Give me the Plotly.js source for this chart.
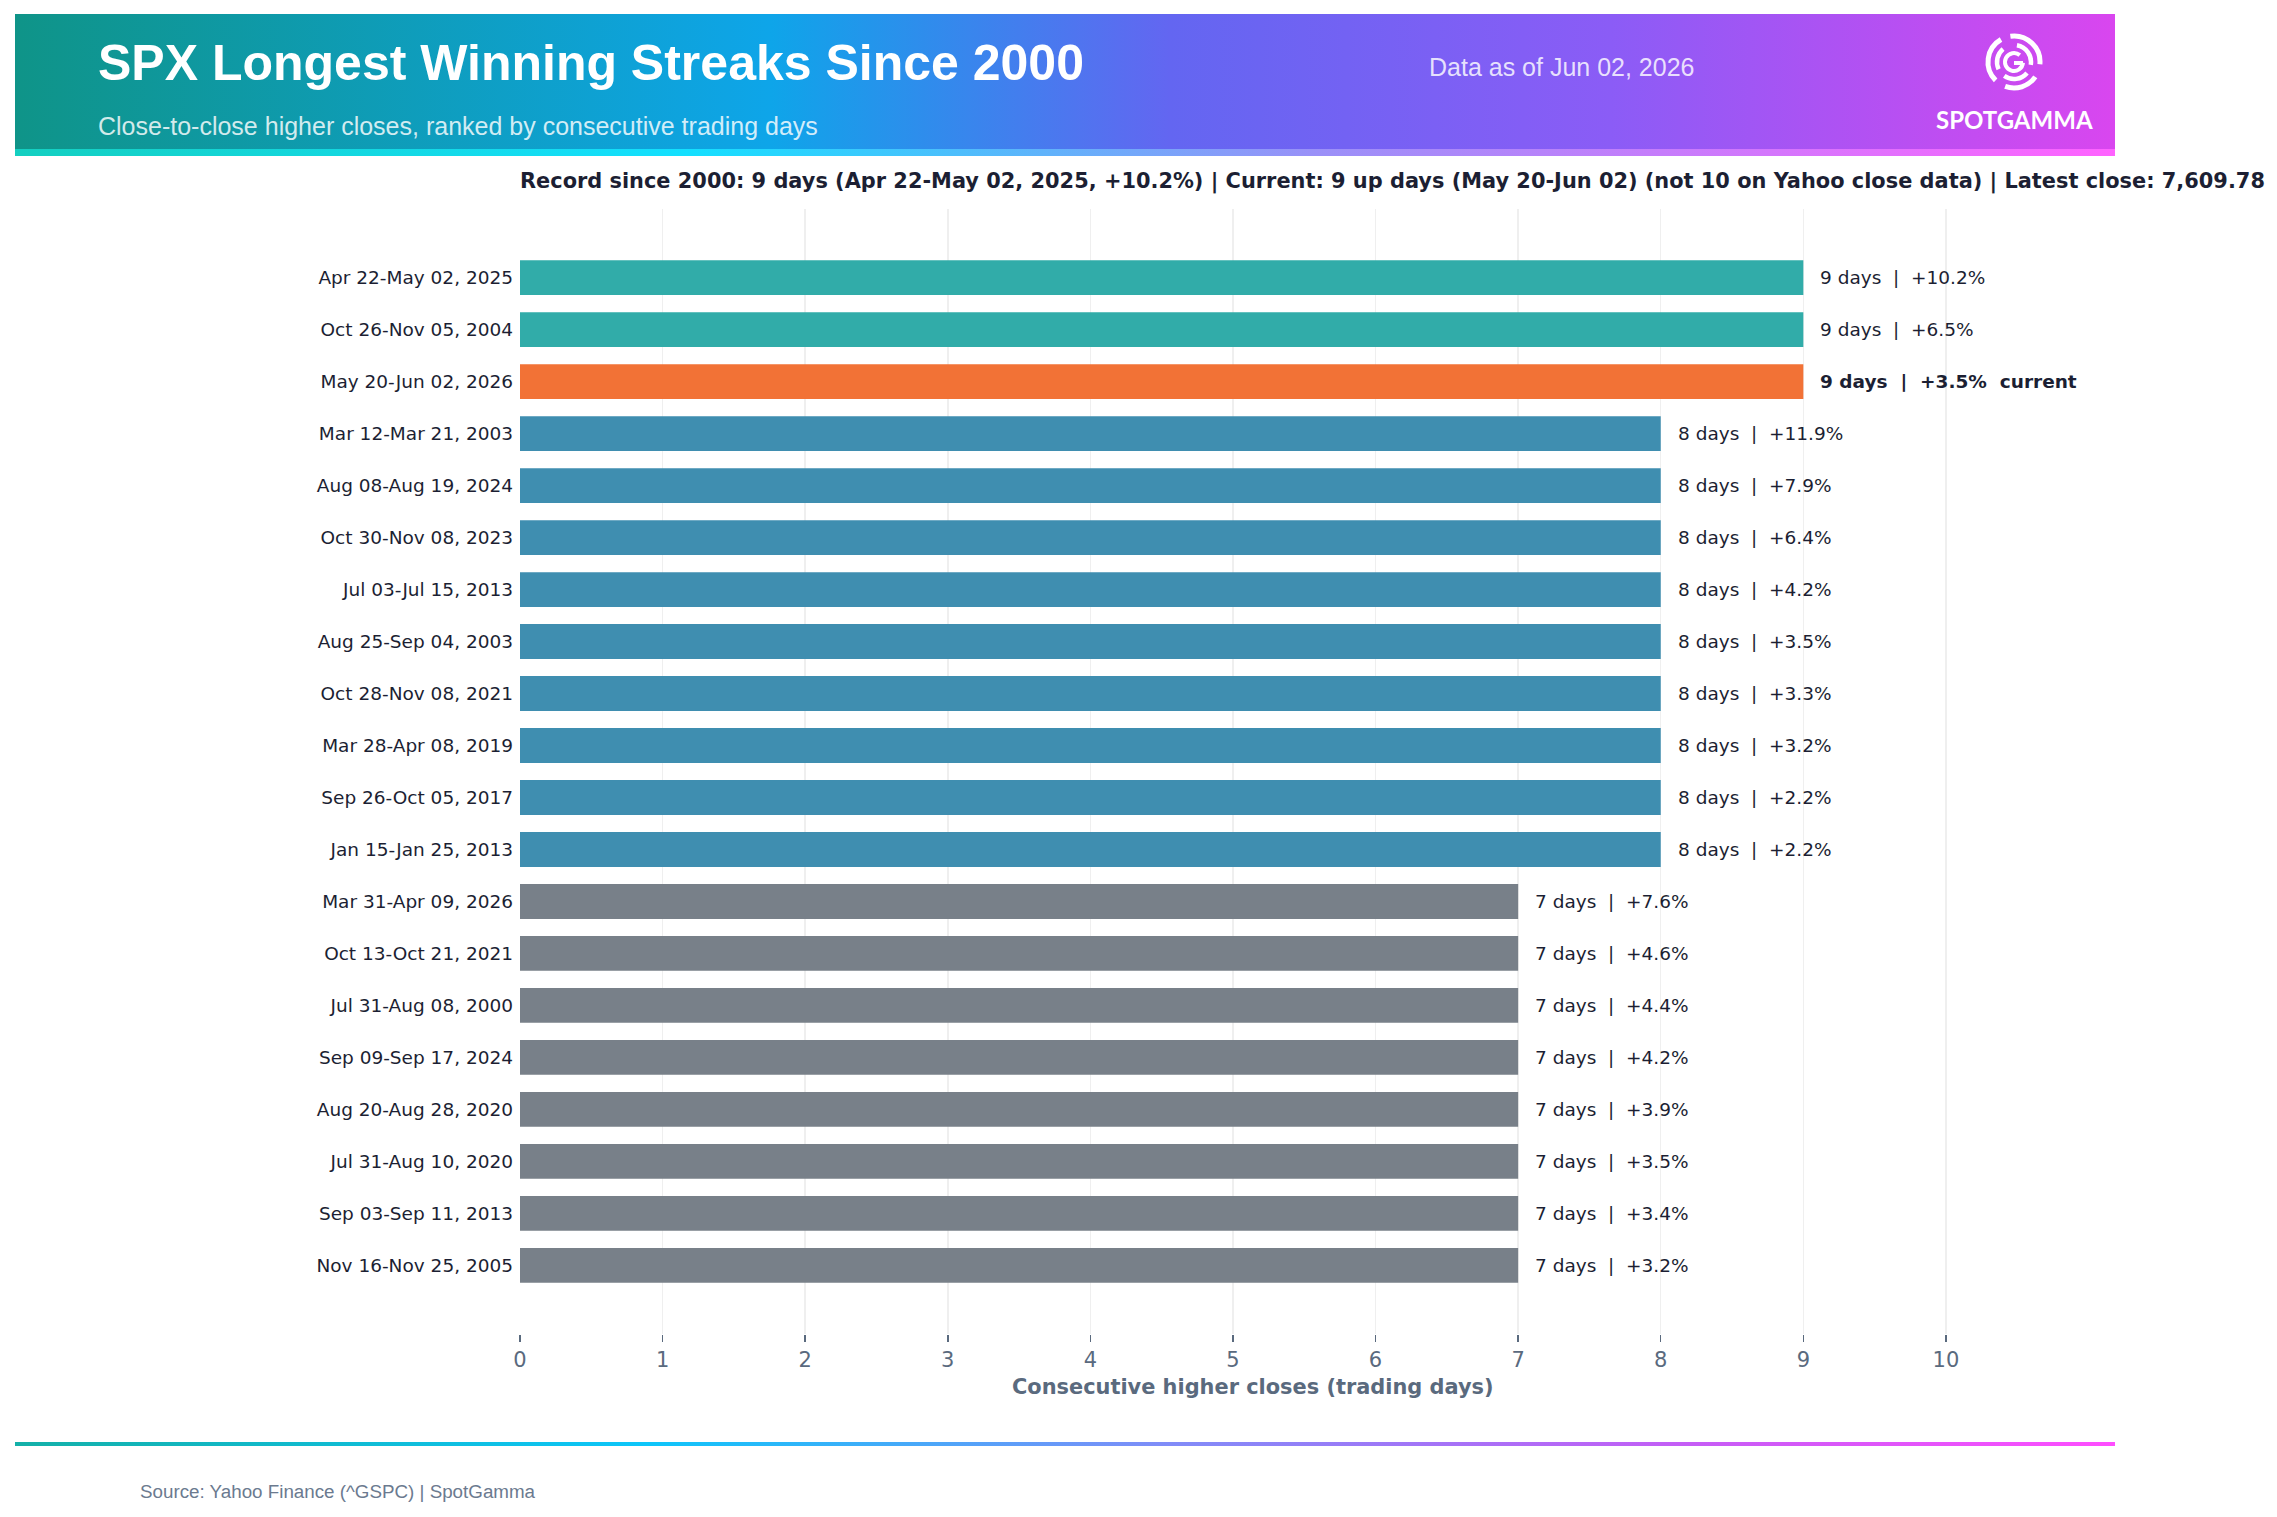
<!DOCTYPE html>
<html>
<head>
<meta charset="utf-8">
<script src="https://cdn.plot.ly/plotly-3.0.1.min.js"></script>
<style>html,body{margin:0;padding:0;background:#fff}</style>
</head>
<body>
<div id="chart" style="width:2277px;height:1517px"></div>
<script>
// streak data, ranked
var streaks = [
  'Apr 22-May 02, 2025', 'Oct 26-Nov 05, 2004', 'May 20-Jun 02, 2026', 'Mar 12-Mar 21, 2003',
  'Aug 08-Aug 19, 2024', 'Oct 30-Nov 08, 2023', 'Jul 03-Jul 15, 2013', 'Aug 25-Sep 04, 2003',
  'Oct 28-Nov 08, 2021', 'Mar 28-Apr 08, 2019', 'Sep 26-Oct 05, 2017', 'Jan 15-Jan 25, 2013',
  'Mar 31-Apr 09, 2026', 'Oct 13-Oct 21, 2021', 'Jul 31-Aug 08, 2000', 'Sep 09-Sep 17, 2024',
  'Aug 20-Aug 28, 2020', 'Jul 31-Aug 10, 2020', 'Sep 03-Sep 11, 2013', 'Nov 16-Nov 25, 2005'
]
var days = [9, 9, 9, 8, 8, 8, 8, 8, 8, 8, 8, 8, 7, 7, 7, 7, 7, 7, 7, 7]
var pctGain = [10.2, 6.5, 3.5, 11.9, 7.9, 6.4, 4.2, 3.5, 3.3, 3.2, 2.2, 2.2, 7.6, 4.6, 4.4, 4.2, 3.9, 3.5, 3.4, 3.2]
var currentStreak = 'May 20-Jun 02, 2026'
var tickDays = [0, 1, 2, 3, 4, 5, 6, 7, 8, 9, 10]
var latestClose = '7,609.78'
var asOf = 'Jun 02, 2026'

var W = 2277, H = 1517
function px(x) { return x / W }
function py(y) { return 1 - y / H }

var teal = '#31aca9', blue = '#3f8eb0', gray = '#788089', orange = '#f27236'
var ink = '#1c1f33', slate = '#5a6a7e'

var barColors = streaks.map(function (s, i) {
  if (s == currentStreak) return orange
  if (days[i] >= 9) return teal
  if (days[i] == 8) return blue
  return gray
})

function arc(cx, cy, r, a0, a1) {
  var rad = Math.PI / 180
  var x0 = cx + r * Math.sin(a0 * rad), y0 = cy - r * Math.cos(a0 * rad)
  var x1 = cx + r * Math.sin(a1 * rad), y1 = cy - r * Math.cos(a1 * rad)
  var large = (a1 - a0) > 180 ? 1 : 0
  return 'M' + x0.toFixed(2) + ' ' + y0.toFixed(2) + ' A' + r + ' ' + r + ' 0 ' + large + ' 1 ' + x1.toFixed(2) + ' ' + y1.toFixed(2)
}

function stops(list) {
  return list.map(function (s) { return '<stop offset="' + s[0] + '" stop-color="' + s[1] + '"/>' }).join('')
}

function svgUri(s) {
  return 'data:image/svg+xml;charset=utf-8,' + encodeURIComponent(s)
}

// header band with logo mark
function headerSvg() {
  var w = 2100, h = 142
  var cx = 1999, cy = 48
  var icon = '<g fill="none" stroke="#fff" stroke-linecap="butt">' +
    '<path stroke-width="5" d="' + arc(cx, cy, 26, -8, 95) + '"/>' +
    '<path stroke-width="5" d="' + arc(cx, cy, 26, 125, 200) + '"/>' +
    '<path stroke-width="5" d="' + arc(cx, cy, 26, 225, 330) + '"/>' +
    '<path stroke-width="4.5" d="' + arc(cx, cy, 17, 10, 100) + '"/>' +
    '<path stroke-width="4.5" d="' + arc(cx, cy, 17, 130, 215) + '"/>' +
    '<path stroke-width="4.5" d="' + arc(cx, cy, 17, 245, 320) + '"/>' +
    '<path stroke-width="4" d="' + arc(cx, cy, 9, 95, 400) + '"/>' +
    '<path stroke-width="4" d="M' + cx + ' ' + (cy + 1) + ' H' + (cx + 9) + '"/>' +
    '</g>'
  var s = '<svg xmlns="http://www.w3.org/2000/svg" width="' + w + '" height="' + h + '" viewBox="0 0 ' + w + ' ' + h + '" preserveAspectRatio="none">' +
    '<defs>' +
    '<linearGradient id="g1" x1="0" y1="0" x2="1" y2="0">' +
    stops([[0, '#0f9488'], [0.36, '#0ea5e9'], [0.55, '#6366f1'], [0.76, '#8b5cf6'], [1, '#d946ef']]) +
    '</linearGradient>' +
    '<linearGradient id="g2" x1="0" y1="0" x2="1" y2="0">' +
    stops([[0, '#14cfc0'], [0.32, '#13e0ff'], [0.62, '#9a90f8'], [1, '#ff62ff']]) +
    '</linearGradient>' +
    '</defs>' +
    '<rect x="0" y="0" width="' + w + '" height="135" fill="url(#g1)"/>' +
    '<rect x="0" y="135" width="' + w + '" height="7" fill="url(#g2)"/>' +
    icon + '</svg>'
  return svgUri(s)
}

function footerSvg() {
  var s = '<svg xmlns="http://www.w3.org/2000/svg" width="2100" height="4" viewBox="0 0 2100 4" preserveAspectRatio="none">' +
    '<defs><linearGradient id="g3" x1="0" y1="0" x2="1" y2="0">' +
    stops([[0, '#14b0a8'], [0.3, '#0cc6fa'], [0.55, '#818cf8'], [0.8, '#c65cf6'], [1, '#ff4dff']]) +
    '</linearGradient></defs>' +
    '<rect x="0" y="0" width="2100" height="4" fill="url(#g3)"/></svg>'
  return svgUri(s)
}

var trace = {
  type: 'bar',
  orientation: 'h',
  x: days,
  y: streaks,
  marker: { color: barColors, line: { width: 0 } },
  hoverinfo: 'skip',
  cliponaxis: false
}

var sp2 = '\u00a0\u00a0'
var annotations = streaks.map(function (s, i) {
  var isCurrent = s == currentStreak
  var txt = days[i] + ' days' + sp2 + '|' + sp2 + '+' + pctGain[i].toFixed(1) + '%' + (isCurrent ? sp2 + 'current' : '')
  return {
    x: days[i], y: s, xref: 'x', yref: 'y',
    text: txt, showarrow: false, xanchor: 'left', yanchor: 'middle', xshift: 15,
    font: { family: 'DejaVu Sans', size: 18.5, color: ink, weight: isCurrent ? 700 : 400 }
  }
})

function note(text, x, y, anchor, font) {
  return { text: text, x: px(x), y: py(y), xref: 'paper', yref: 'paper', xanchor: anchor, yanchor: 'middle', showarrow: false, font: font }
}

annotations.push(
  note('SPX Longest Winning Streaks Since 2000', 96, 63, 'left',
    { family: 'Liberation Sans, Arial, sans-serif', size: 50, weight: 700, color: '#ffffff' }),
  note('Close-to-close higher closes, ranked by consecutive trading days', 96, 126, 'left',
    { family: 'Liberation Sans, Arial, sans-serif', size: 25, color: 'rgba(255,255,255,0.82)' }),
  note('Data as of ' + asOf, 1427, 67, 'left',
    { family: 'Liberation Sans, Arial, sans-serif', size: 25, color: 'rgba(255,255,255,0.82)' }),
  note('SPOTGAMMA', 2014, 120, 'center',
    { family: 'Lato, Liberation Sans, sans-serif', size: 24, weight: 700, color: '#ffffff' }),
  note('Consecutive higher closes (trading days)', 1253, 1387, 'center',
    { family: 'DejaVu Sans', size: 20.9, weight: 700, color: slate }),
  note('Source: Yahoo Finance (^GSPC) | SpotGamma', 138, 1491, 'left',
    { family: 'Liberation Sans, Arial, sans-serif', size: 18.8, color: '#6b7a8f' })
)

var recordText = 'Record since 2000: 9 days (Apr 22-May 02, 2025, +10.2%) | Current: 9 up days (May 20-Jun 02) ' +
  '(not 10 on Yahoo close data) | Latest close: ' + latestClose

var layout = {
  width: W,
  height: H,
  margin: { l: 0, r: 0, t: 0, b: 0 },
  paper_bgcolor: '#ffffff',
  plot_bgcolor: '#ffffff',
  showlegend: false,
  hovermode: false,
  bargap: 0.33,
  title: {
    text: recordText,
    xref: 'container', yref: 'container',
    x: px(520), xanchor: 'left',
    y: py(181), yanchor: 'middle',
    font: { family: 'DejaVu Sans', size: 20.9, weight: 700, color: ink }
  },
  xaxis: {
    domain: [px(520), px(1983)],
    range: [0, 10.26],
    tickvals: tickDays,
    ticks: 'outside', ticklen: 7, tickwidth: 1.5, tickcolor: slate,
    showgrid: true, gridcolor: '#efefef', gridwidth: 1.5,
    zeroline: false, showline: false,
    tickfont: { family: 'DejaVu Sans', size: 21, color: slate },
    automargin: false
  },
  yaxis: {
    domain: [py(1334), py(209)],
    type: 'category',
    categoryorder: 'array',
    categoryarray: streaks,
    range: [streaks.length - 1 + 1.32, -1.32],
    showgrid: false, zeroline: false, showline: false,
    ticks: '',
    ticklabelstandoff: 6,
    tickfont: { family: 'DejaVu Sans', size: 18.5, color: ink },
    automargin: false
  },
  images: [
    { source: headerSvg(), xref: 'paper', yref: 'paper', x: px(15), y: py(14), sizex: 2100 / W, sizey: 142 / H,
      xanchor: 'left', yanchor: 'top', sizing: 'stretch', layer: 'below' },
    { source: footerSvg(), xref: 'paper', yref: 'paper', x: px(15), y: py(1442), sizex: 2100 / W, sizey: 4 / H,
      xanchor: 'left', yanchor: 'top', sizing: 'stretch', layer: 'below' }
  ],
  annotations: annotations
}

Plotly.newPlot('chart', [trace], layout, { displayModeBar: false, staticPlot: true })
</script>
</body>
</html>
